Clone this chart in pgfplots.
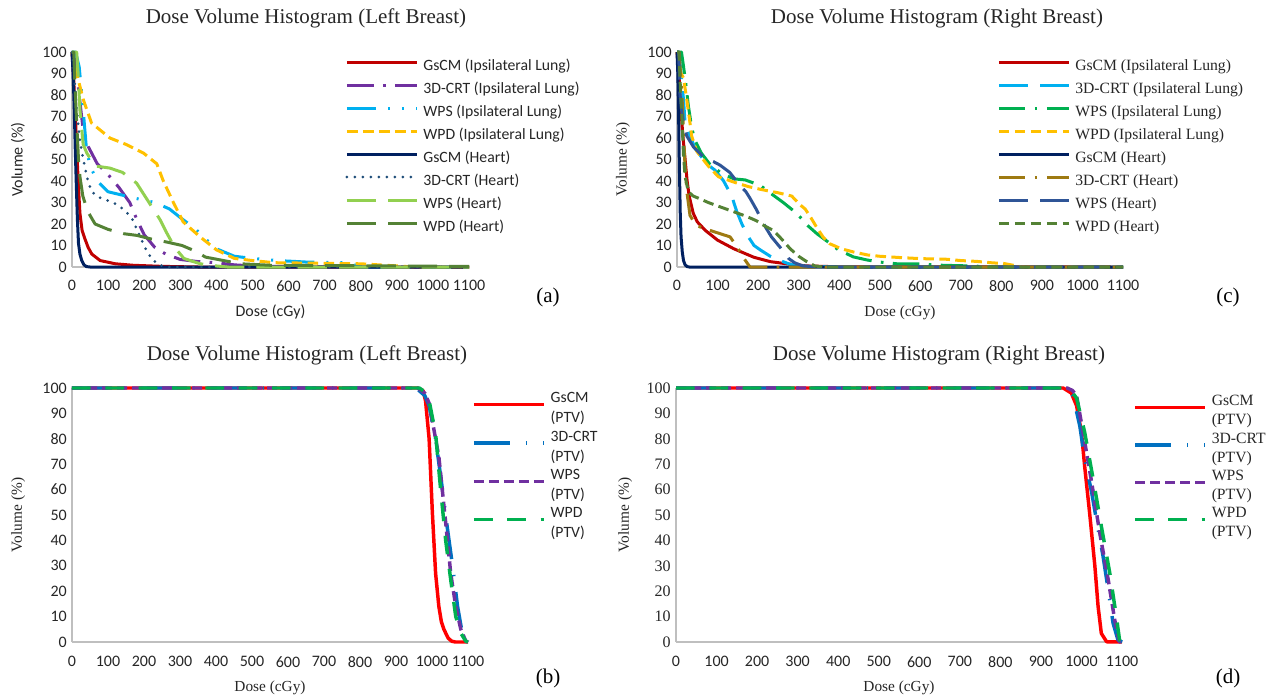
\documentclass[border=0pt]{standalone}
\usepackage{fontspec}
\setmainfont{Carlito}
\newfontfamily\tnr{Liberation Serif}
\usepackage{pgfplots}
\pgfplotsset{compat=1.18}

\definecolor{cRedDk}{HTML}{C00000}
\definecolor{cPurple}{HTML}{7030A0}
\definecolor{cCyan}{HTML}{00B0F0}
\definecolor{cGold}{HTML}{FFC000}
\definecolor{cNavy}{HTML}{002060}
\definecolor{cBlueDot}{HTML}{1F4E79}
\definecolor{cLime}{HTML}{92D050}
\definecolor{cGreenDk}{HTML}{548235}
\definecolor{cGreen}{HTML}{00B050}
\definecolor{cOlive}{HTML}{9E7A12}
\definecolor{cSteel}{HTML}{2F5597}
\definecolor{cRed}{HTML}{FF0000}
\definecolor{cBlue}{HTML}{0070C0}
\definecolor{axisgray}{HTML}{BFBFBF}
\definecolor{txt}{HTML}{262626}

\tikzset{
  ldash/.style={dash pattern=on 22pt off 9pt},
  ldashdot/.style={dash pattern=on 20pt off 7pt on 2pt off 7pt},
  ldashdotdot/.style={dash pattern=on 22pt off 9pt on 1.5pt off 9pt on 1.5pt off 9pt},
  sdash/.style={dash pattern=on 8pt off 4pt},
  rdot/.style={line cap=round, dash pattern=on 0pt off 6pt},
}

\pgfplotsset{
  excel/.style={
    scale only axis,
    xmin=0, xmax=1100, ymin=0, ymax=100,
    xtick={0,100,...,1100}, ytick={0,10,...,100},
    axis lines=left,
    axis line style={-, draw=axisgray, line width=1pt},
    major tick length=0pt,
    tick label style={font=\fontsize{12}{14}\selectfont, text=txt},
    label style={text=txt},
    /pgf/number format/assume math mode=true,
    /pgf/number format/1000 sep={},
    xticklabel style={anchor=north, inner sep=0pt, yshift=-10pt},
    yticklabel style={anchor=east, inner sep=0pt, xshift=-3.75pt},
    clip=false,
    legend cell align=left,
    legend image code/.code={\draw[##1] (0pt,3.6pt) -- (52.5pt,3.6pt);},
    every axis plot/.append style={line width=2.25pt, line join=round},
  },
  toplegend/.style={
    legend style={draw=none, fill=none, anchor=north west, inner sep=0pt,
      row sep=5.75pt, column sep=3.75pt,
      nodes={inner sep=0pt, text height=8.5pt, text depth=3pt, text=txt},
      font=\fontsize{11.8}{14}\selectfont},
  },
  botlegend/.style={
    legend style={draw=none, fill=none, anchor=north west, inner sep=0pt,
      row sep=2.75pt, column sep=3.75pt,
      nodes={inner sep=0pt, text height=8pt, text depth=18pt, text=txt},
      font=\fontsize{11.8}{15}\selectfont},
  },
}

\begin{document}
\begin{tikzpicture}

% (a) Left breast, lung and heart
\begin{axis}[excel, toplegend,
  at={(54pt,-200.25pt)}, anchor=south west,
  width=297.75pt, height=161.25pt,
  legend style={at={(0.688,0.968)}},
  xlabel={Dose (cGy)}, ylabel={Volume (\%)},
  xlabel style={at={(axis description cs:0.5,-0.209)}, anchor=center, font=\fontsize{12}{14}\selectfont},
  ylabel style={at={(axis description cs:-0.136,0.5)}, anchor=center, font=\fontsize{12}{14}\selectfont},
]
\addplot[cRedDk] coordinates {(0,100) (4,90) (8,75) (12,60) (15,48) (18,37) (22,25) (28,17) (36,13) (45,9) (55,6) (78,3) (120,1.5) (170,0.8) (250,0.3) (350,0) (1100,0)};
\addlegendentry{GsCM (Ipsilateral Lung)}
\addplot[cPurple, ldashdot] coordinates {(0,100) (10,95) (20,80) (30,65) (45,56) (70,48) (100,43) (130,37) (160,30) (180,22) (200,15) (230,9) (260,6) (300,3.5) (350,2.5) (400,2) (450,1) (500,0.5) (600,0.2) (1100,0)};
\addlegendentry{3D-CRT (Ipsilateral Lung)}
\addplot[cCyan, ldashdotdot] coordinates {(0,100) (10,100) (20,93) (30,75) (40,55) (50,47) (70,40) (100,35) (150,33) (200,31) (230,30) (270,27) (300,23) (340,18) (370,13) (400,8.5) (450,5) (500,4) (570,3) (650,2.3) (750,2) (780,1.2) (800,0) (1100,0)};
\addlegendentry{WPS (Ipsilateral Lung)}
\addplot[cGold, sdash] coordinates {(0,100) (5,95) (13,90) (22,84) (31,78) (54,67) (105,60) (150,57) (198,53) (235,48) (253,40) (281,30) (308,21) (355,14) (400,8) (450,4) (500,3) (560,2) (800,1.5) (900,0.5) (950,0) (1100,0)};
\addlegendentry{WPD (Ipsilateral Lung)}
\addplot[cNavy] coordinates {(0,100) (3,90) (6,75) (9,55) (12,38) (15,22) (18,11) (22,6) (27,3) (33,1) (40,0.2) (50,0) (1100,0)};
\addlegendentry{GsCM (Heart)}
\addplot[cBlueDot, rdot] coordinates {(0,100) (3,95) (8,85) (13,73) (22,59) (30,51) (41,42) (54,35) (80,32) (114,30) (142,27) (165,23) (184,16) (202,9) (220,4) (240,1) (260,0) (1100,0)};
\addlegendentry{3D-CRT (Heart)}
\addplot[cLime, ldash] coordinates {(0,100) (13,100) (17,90) (22,73) (31,57) (41,53) (64,47) (105,46) (140,44) (179,39) (202,33) (244,22) (262,16) (285,9) (310,4) (355,1.5) (400,0.5) (430,0) (1100,0)};
\addlegendentry{WPS (Heart)}
\addplot[cGreenDk, ldash] coordinates {(0,100) (5,100) (8,85) (13,67) (18,50) (22,42) (30,33) (43,26) (64,20) (100,17.5) (143,15.5) (180,14.7) (220,13) (263,11.6) (305,10) (340,7.5) (370,4.6) (420,3) (467,1.5) (550,0.8) (1100,0.3)};
\addlegendentry{WPD (Heart)}
\end{axis}

% (c) Right breast, lung and heart
\begin{axis}[excel, toplegend,
  at={(507.75pt,-200.25pt)}, anchor=south west,
  width=334.5pt, height=161.25pt,
  legend style={at={(0.7175,0.968)}, font=\tnr\fontsize{11.75}{13}\selectfont},
  xlabel={Dose (cGy)}, ylabel={Volume (\%)},
  xlabel style={at={(axis description cs:0.5,-0.214)}, anchor=center, font=\tnr\fontsize{11.5}{13}\selectfont},
  ylabel style={at={(axis description cs:-0.121,0.5)}, anchor=center, font=\tnr\fontsize{11.5}{13}\selectfont},
]
\addplot[cRedDk] coordinates {(0,100) (5,90) (10,72) (15,60) (20,50) (25,40) (30,33) (40,25) (50,21) (70,17) (100,12.5) (140,8.5) (190,4.5) (230,2.5) (270,1.5) (320,0.5) (400,0.1) (1100,0)};
\addlegendentry{GsCM (Ipsilateral Lung)}
\addplot[cCyan, ldash] coordinates {(0,100) (5,100) (10,90) (16,78) (20,67) (32,61) (45,55) (61,51) (80,47) (94,45) (115,40) (135,33) (147,26) (160,20) (176,14) (190,10) (205,8) (230,5) (250,3.3) (280,1.2) (320,0.3) (400,0) (1100,0)};
\addlegendentry{3D-CRT (Ipsilateral Lung)}
\addplot[cGreen, ldashdot] coordinates {(0,100) (11,100) (20,88) (28,75) (36,65) (44,59) (60,53) (80,48) (110,43.5) (140,41) (168,40.5) (205,38) (233,34) (262,30) (295,25) (324,19) (345,15.5) (370,12) (398,8) (435,4.7) (468,3.3) (500,2.3) (542,1.5) (600,1.4) (656,0.8) (725,0.5) (780,0) (1100,0)};
\addlegendentry{WPS (Ipsilateral Lung)}
\addplot[cGold, sdash] coordinates {(0,100) (5,95) (10,90) (16,88) (24,78) (32,67) (36,61) (48,54) (77,47) (102,42) (140,39.5) (176,37.4) (209,36) (250,34.5) (283,33) (303,29) (316,27) (330,23) (344,18.6) (360,14) (377,10.8) (405,8.5) (435,7) (470,5.6) (500,5) (550,4.4) (600,3.9) (666,3.6) (700,3) (740,2.6) (780,1.9) (804,1.7) (830,0.8) (850,0) (1100,0)};
\addlegendentry{WPD (Ipsilateral Lung)}
\addplot[cNavy] coordinates {(0,100) (2,90) (4,70) (6,45) (8,25) (10,14) (13,7) (16,3) (20,1) (25,0.2) (30,0) (1100,0)};
\addlegendentry{GsCM (Heart)}
\addplot[cOlive, ldashdot] coordinates {(0,100) (5,100) (8,92) (11,85) (14,72) (17,58) (20,46) (25,34) (32,24) (45,20) (57,18.6) (90,16.5) (131,14) (151,8.5) (165,4) (180,0) (1100,0)};
\addlegendentry{3D-CRT (Heart)}
\addplot[cSteel, ldash] coordinates {(0,100) (4,100) (7,81) (12,72) (16,67) (24,61) (40,56) (69,50.5) (90,49) (106,47.4) (130,44) (155,38) (170,35) (180,32) (195,27) (209,21.7) (220,18) (233,14) (255,9) (275,4) (290,2) (310,0.5) (350,0) (1100,0)};
\addlegendentry{WPS (Heart)}
\addplot[cGreenDk, sdash] coordinates {(0,100) (5,100) (8,85) (12,70) (16,52) (20,42) (28,35) (40,33) (53,32) (77,30) (106,28) (143,25.5) (172,23.5) (196,21.5) (217,19) (238,17) (258,13) (279,8.5) (300,5) (320,2.5) (340,0.5) (360,0) (1100,0)};
\addlegendentry{WPD (Heart)}
\end{axis}

% (b) Left breast, PTV
\begin{axis}[excel, botlegend,
  at={(54pt,-481.5pt)}, anchor=south west,
  width=297pt, height=190.5pt,
  legend style={at={(1.010,0.985)}},
  xticklabel style={yshift=-0.75pt},
  xlabel={Dose (cGy)}, ylabel={Volume (\%)},
  xlabel style={at={(axis description cs:0.5,-0.181)}, anchor=center, font=\tnr\fontsize{11.5}{13}\selectfont},
  ylabel style={at={(axis description cs:-0.136,0.5)}, anchor=center, font=\tnr\fontsize{11.5}{13}\selectfont},
  every axis plot/.append style={line width=2.6pt},
]
\addplot[cRed] coordinates {(0,100) (960,100) (975,99) (982,95) (992,80) (1001,51) (1010,27) (1019,14) (1026,8) (1033,5) (1045,1.5) (1055,0.3) (1065,0) (1100,0)};
\addlegendentry{\parbox[t]{60pt}{GsCM\\(PTV)}}
\addplot[cBlue, dash pattern=on 27pt off 12pt on 1pt off 12pt] coordinates {(0,100) (950,100) (964,99) (980,97) (992,93) (1010,80) (1029,60) (1042,45.5) (1057,30) (1071,14) (1084,3.5) (1098,0.3) (1100,0)};
\addlegendentry{\parbox[t]{60pt}{3D-CRT\\(PTV)}}
\addplot[cPurple, dash pattern=on 7.5pt off 3.75pt] coordinates {(0,100) (960,100) (980,98) (992,94) (1001,87) (1019,73) (1038,47) (1052,27) (1066,14) (1080,5) (1094,0.3) (1100,0)};
\addlegendentry{\parbox[t]{60pt}{WPS\\(PTV)}}
\addplot[cGreen, dash pattern=on 14pt off 11pt] coordinates {(0,100) (965,100) (980,98.5) (992,95) (1010,82) (1024,60) (1038,40) (1052,24.5) (1066,10) (1080,3.5) (1094,0.3) (1100,0)};
\addlegendentry{\parbox[t]{60pt}{WPD\\(PTV)}}
\end{axis}

% (d) Right breast, PTV
\begin{axis}[excel, botlegend,
  at={(507pt,-481.5pt)}, anchor=south west,
  width=334.5pt, height=190.5pt,
  legend style={at={(1.0247,0.973)}, row sep=2pt, font=\tnr\fontsize{11.75}{14.25}\selectfont},
  xticklabel style={yshift=-0.75pt},
  yticklabel style={font=\tnr\fontsize{12}{14}\selectfont},
  xlabel={Dose (cGy)}, ylabel={Volume (\%)},
  xlabel style={at={(axis description cs:0.5,-0.181)}, anchor=center, font=\tnr\fontsize{11.5}{13}\selectfont},
  ylabel style={at={(axis description cs:-0.114,0.5)}, anchor=center, font=\tnr\fontsize{11.5}{13}\selectfont},
  every axis plot/.append style={line width=2.6pt},
]
\addplot[cRed] coordinates {(0,100) (955,100) (975,98) (988,93) (1000,82.5) (1008,69) (1020,51) (1033,30) (1041,14) (1049,3.4) (1062,0.1) (1100,0)};
\addlegendentry{\parbox[t]{60pt}{GsCM\\(PTV)}}
\addplot[cBlue, dash pattern=on 27pt off 12pt on 1pt off 12pt] coordinates {(0,100) (960,100) (979,97) (996,85) (1008,72) (1025,59) (1037,48) (1053,34) (1066,20.5) (1078,7.4) (1090,0.8) (1100,0)};
\addlegendentry{\parbox[t]{60pt}{3D-CRT\\(PTV)}}
\addplot[cPurple, dash pattern=on 7.5pt off 3.75pt] coordinates {(0,100) (965,100) (978,99) (988,97) (1004,82.5) (1025,63) (1045,43) (1066,24.5) (1082,8.7) (1093,0.1) (1100,0)};
\addlegendentry{\parbox[t]{60pt}{WPS\\(PTV)}}
\addplot[cGreen, dash pattern=on 14pt off 11pt] coordinates {(0,100) (960,100) (971,99.6) (988,96) (1008,82.5) (1029,64) (1049,45.6) (1070,27) (1086,10) (1094,0.8) (1100,0)};
\addlegendentry{\parbox[t]{60pt}{WPD\\(PTV)}}
\end{axis}

% titles and panel letters
\node[font=\tnr\fontsize{15.75}{18}\selectfont, text=txt] at (229.5pt,-13.5pt) {Dose Volume Histogram (Left Breast)};
\node[font=\tnr\fontsize{15.75}{18}\selectfont, text=txt] at (702.75pt,-13.5pt) {Dose Volume Histogram (Right Breast)};
\node[font=\tnr\fontsize{15.75}{18}\selectfont, text=txt] at (230.25pt,-266.25pt) {Dose Volume Histogram (Left Breast)};
\node[font=\tnr\fontsize{15.75}{18}\selectfont, text=txt] at (704.25pt,-266.25pt) {Dose Volume Histogram (Right Breast)};
\node[font=\tnr\fontsize{15.75}{18}\selectfont] at (411pt,-222.75pt) {(a)};
\node[font=\tnr\fontsize{15.75}{18}\selectfont] at (411pt,-508.5pt) {(b)};
\node[font=\tnr\fontsize{15.75}{18}\selectfont] at (921pt,-222.75pt) {(c)};
\node[font=\tnr\fontsize{15.75}{18}\selectfont] at (921pt,-508.5pt) {(d)};

\pgfresetboundingbox
\path[use as bounding box] (0pt,0pt) rectangle (951.75pt,-522.75pt);
\end{tikzpicture}
\end{document}
